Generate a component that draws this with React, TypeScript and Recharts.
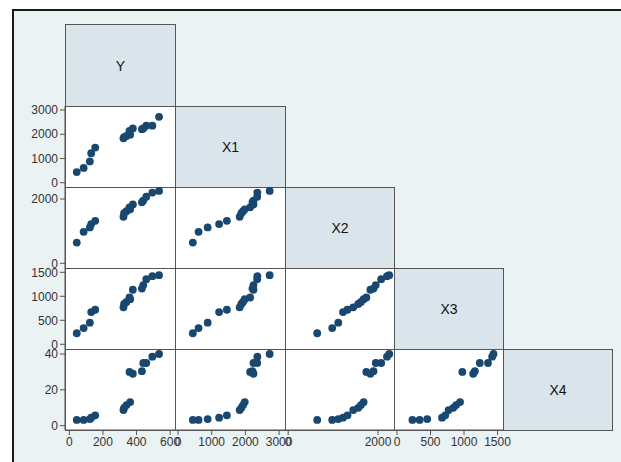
import { ScatterChart, Scatter, XAxis, YAxis } from "recharts"

const Y = [44, 85, 122, 130, 154, 322, 326, 340, 362, 358, 378, 432, 440, 458, 494, 534]
const X1 = [440, 610, 880, 1220, 1450, 1830, 1880, 1930, 1980, 2140, 2240, 2210, 2240, 2350, 2355, 2720]
const X2 = [646, 980, 1115, 1220, 1320, 1448, 1560, 1620, 1680, 1740, 1830, 1900, 1950, 2070, 2200, 2250]
const X3 = [230, 338, 451, 672, 720, 770, 840, 882, 941, 975, 1137, 1162, 1235, 1358, 1420, 1440]
const X4 = [3.2, 3.2, 3.7, 4.5, 5.8, 8.7, 10, 11.5, 13.2, 30, 29, 30.4, 35, 35, 38.5, 40]

const NAMES = ["Y", "X1", "X2", "X3", "X4"]
const SERIES = [Y, X1, X2, X3, X4]
const TICKS = [
  [0, 200, 400, 600],
  [0, 1000, 2000, 3000],
  [0, 2000],
  [0, 500, 1000, 1500],
  [0, 20, 40],
]
const COL_DOMAIN: [number, number][] = [[-26, 629], [-89, 3175], [-71, 2356], [-45, 1582], [0, 1]]
const ROW_DOMAIN: [number, number][] = [[0, 1], [-177, 3165], [-146, 2373], [-98, 1590], [-2.4, 42.8]]

const COLS = [65, 175, 285, 394, 503, 612]
const ROWS = [24, 106, 187, 268, 349, 430]
const AXW = 50
const AXH = 28
const MARKER = "#1a476f"
const EDGE = "#555"

const dot = (p: any) => <circle cx={p.cx} cy={p.cy} r={3.9} fill={MARKER} />

function Cell({ r, c }: { r: number; c: number }) {
  const w = COLS[c + 1] - COLS[c]
  const h = ROWS[r + 1] - ROWS[r]
  const left = c === 0
  const bottom = r === 4
  const data = SERIES[c].map((v, i) => ({ x: v, y: SERIES[r][i] }))
  return (
    <div style={{ position: "absolute", left: COLS[c] - (left ? AXW : 0), top: ROWS[r] }}>
      <ScatterChart
        width={w + (left ? AXW : 0)}
        height={h + (bottom ? AXH : 0)}
        margin={{ top: 0, right: 0, bottom: 0, left: 0 }}
      >
        <XAxis
          type="number"
          dataKey="x"
          domain={COL_DOMAIN[c]}
          allowDataOverflow
          ticks={TICKS[c]}
          interval={0}
          hide={!bottom}
          height={AXH}
          tickSize={5}
          tickMargin={2}
          tick={{ fontSize: 12, fill: "#333" }}
          tickLine={{ stroke: EDGE }}
          axisLine={{ stroke: EDGE }}
        />
        <YAxis
          type="number"
          dataKey="y"
          domain={ROW_DOMAIN[r]}
          allowDataOverflow
          ticks={TICKS[r]}
          interval={0}
          hide={!left}
          width={AXW}
          tickSize={5}
          tickMargin={2}
          tick={{ fontSize: 12, fill: "#333" }}
          tickLine={{ stroke: EDGE }}
          axisLine={{ stroke: EDGE }}
        />
        <Scatter data={data} shape={dot} isAnimationActive={false} />
      </ScatterChart>
    </div>
  )
}

export default function App() {
  const boxes = []
  const charts = []
  for (let r = 0; r < 5; r++) {
    for (let c = 0; c <= r; c++) {
      const diag = r === c
      boxes.push(
        <div
          key={`b${r}${c}`}
          style={{
            position: "absolute",
            left: COLS[c],
            top: ROWS[r],
            width: COLS[c + 1] - COLS[c] + 1,
            height: ROWS[r + 1] - ROWS[r] + 1,
            boxSizing: "border-box",
            border: `1px solid ${EDGE}`,
            background: diag ? "#d9e5eb" : "#fff",
            display: "flex",
            alignItems: "center",
            justifyContent: "center",
            fontSize: 14,
            color: "#111",
          }}
        >
          {diag ? NAMES[r] : null}
        </div>
      )
      if (!diag) charts.push(<Cell key={`c${r}${c}`} r={r} c={c} />)
    }
  }
  return (
    <div
      style={{
        position: "absolute",
        left: 0,
        top: 0,
        width: 621,
        height: 462,
        overflow: "hidden",
        background: "#fff",
        fontFamily: "'Liberation Sans', Arial, sans-serif",
      }}
    >
      <style>{"svg.recharts-surface { overflow: visible; }"}</style>
      <div
        style={{
          position: "absolute",
          left: 12,
          top: 9,
          width: 700,
          height: 600,
          border: "2px solid #1a1a1a",
          background: "#eaf2f3",
        }}
      />
      {boxes}
      {charts}
    </div>
  )
}
